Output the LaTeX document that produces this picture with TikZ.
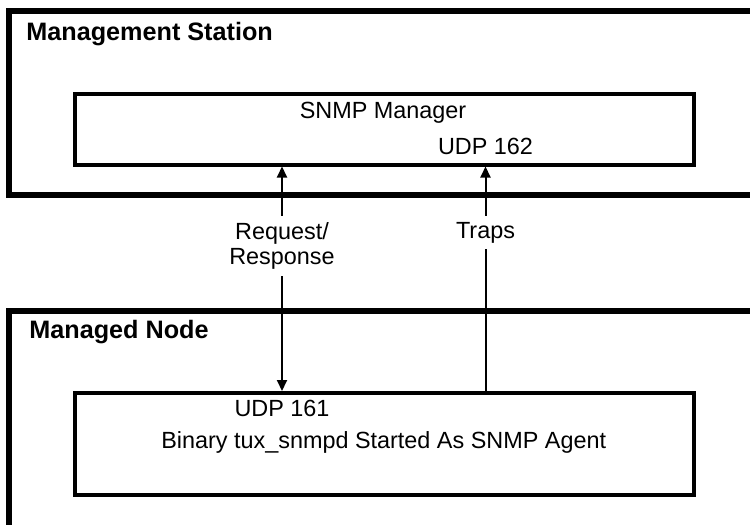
\documentclass[tikz,border=0pt]{standalone}
\usepackage{fontspec}
\setmainfont{Liberation Sans}
\usetikzlibrary{arrows.meta}
\begin{document}
\begin{tikzpicture}[x=0.5pt,y=-0.5pt,
  outerbox/.style={draw, line width=3pt, minimum width=400pt, inner sep=0pt},
  innerbox/.style={draw, line width=2pt, minimum width=309.5pt, inner sep=0pt},
  title/.style={font=\fontsize{12.6pt}{15pt}\selectfont\bfseries, inner sep=0pt, anchor=base west},
  txt/.style={font=\fontsize{11.7pt}{13pt}\selectfont, inner sep=0pt, anchor=base},
  arr/.style={line width=1pt, >={Triangle[length=5.5pt,width=5pt]}},
  lbl/.style={font=\fontsize{11.7pt}{12.8pt}\selectfont, fill=white, align=center, inner xsep=1pt, inner ysep=3pt}]
\useasboundingbox (0,0) rectangle (750,525);
\clip (0,0) rectangle (750,525);
\node[outerbox, minimum height=91.75pt] (station) at (408.5,102.75) {};
\node[outerbox, minimum height=150pt] (managed) at (408.5,461) {};
\node[title] (stationtitle) at (26,40) {Management Station};
\node[title] (managedtitle) at (29,338) {Managed Node};
\node[innerbox, minimum height=35.4pt] (mgr) at (384.4,129.1) {};
\node[innerbox, minimum height=50.75pt] (agent) at (384.5,443.75) {};
\node[txt] (mgrtxt) at (383,118) {SNMP Manager};
\node[txt] (udp162) at (485.5,154.3) {UDP 162};
\node[txt] (udp161) at (282,416.7) {UDP 161};
\node[txt] (agenttxt) at (383.7,448.3) {Binary tux\_snmpd Started As SNMP Agent};
\draw[arr, <->] (udp161 |- agent.north) -- (udp161 |- mgr.south);
\draw[arr, ->] (udp162 |- agent.north) -- (udp162 |- mgr.south);
\node[lbl] (reqlbl) at (282,246) {Request/\\Response};
\node[lbl] (traplbl) at (485.5,232.5) {Traps};
\end{tikzpicture}
\end{document}
